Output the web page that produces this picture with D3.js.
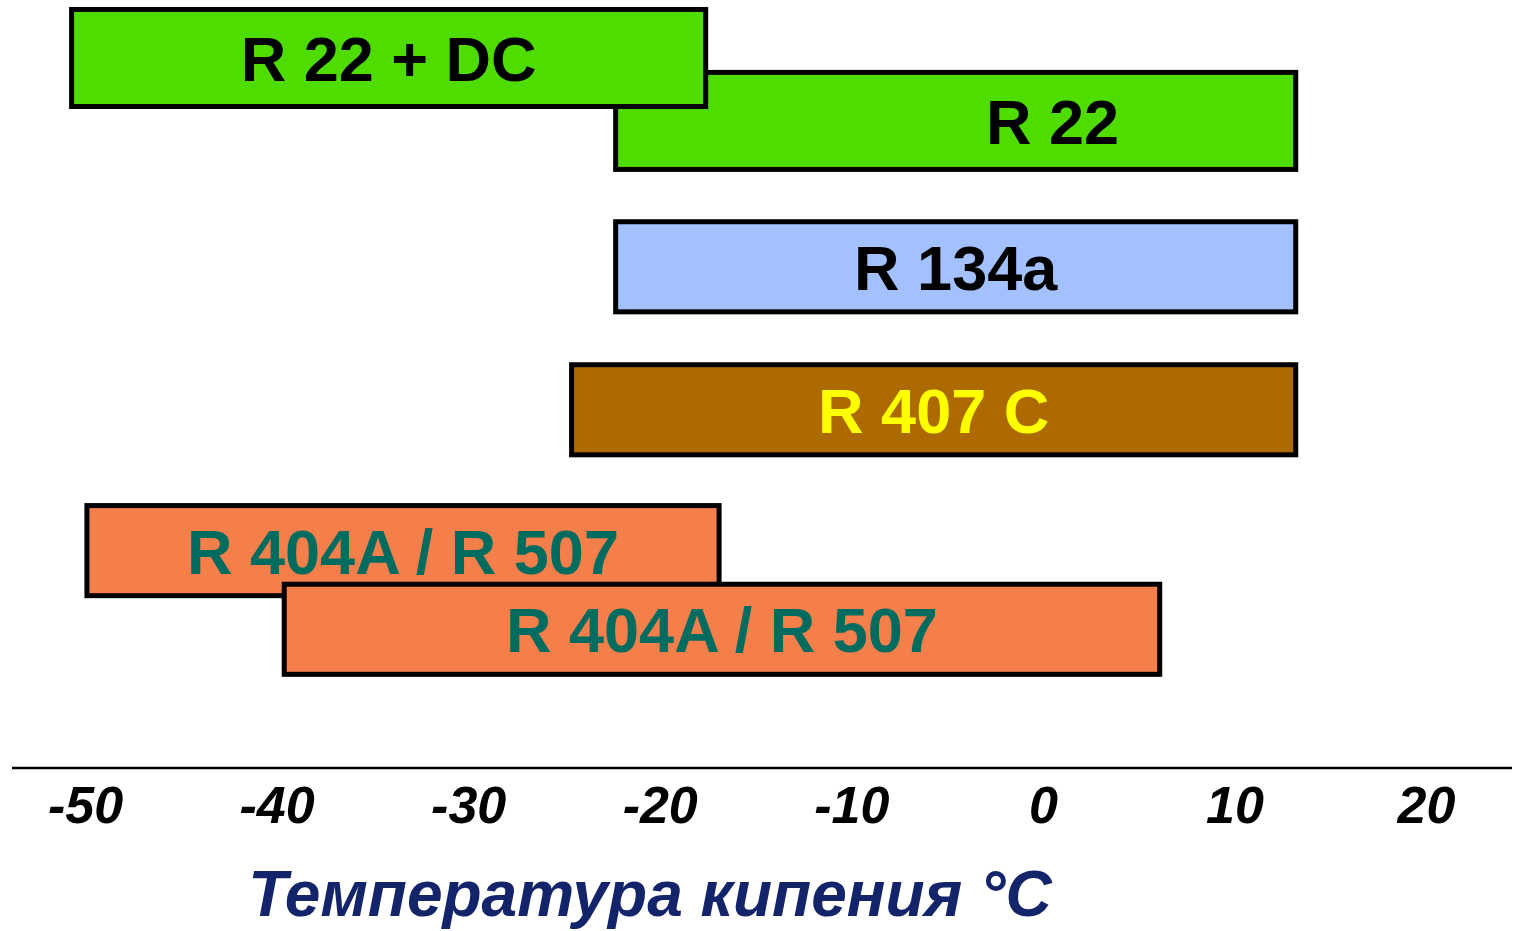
<!DOCTYPE html>
<html><head><meta charset="utf-8">
<script src="https://cdn.jsdelivr.net/npm/d3@7"></script>
<style>
html,body{margin:0;padding:0;background:#fff;}
svg{display:block;}
</style></head>
<body>
<script>
// ---- data ----
const labels   = ["R 22", "R 22 + DC", "R 134a", "R 407 C", "R 404A / R 507", "R 404A / R 507"];
const startT   = [-22.3, -50.7, -22.3, -24.6, -49.9, -39.6];
const endT     = [13.2, -17.6, 13.2, 13.2, -16.9, 6.1];
const rowPos   = [0.88, 0, 2.92, 4.92, 6.89, 7.99];
const labelAt  = [0.5, null, null, null, null, null];
const fills    = ["#4fdd00", "#4fdd00", "#a3c1ff", "#ad6a00", "#f47f4a", "#f47f4a"];
const textCols = ["#000000", "#000000", "#000000", "#ffff00", "#006b5f", "#006b5f"];
const ticks    = [-50, -40, -30, -20, -10, 0, 10, 20];
const axisTitle = "Температура кипения °С";

const W = 1514, H = 931;
const svg = d3.select("body").append("svg").attr("width", W).attr("height", H);

const x = d3.scaleLinear().domain([-50, 20]).range([85, 1426]);
const y = d3.scaleLinear().domain([0, 1]).range([58, 129.5]);
// upper (R 22) rows are drawn a little thicker than the lower ones
const thickOf = r => r < 2 ? 1.357 : 1.26;

const bars = labels.map((l, i) => ({label: l, s: startT[i], e: endT[i], r: rowPos[i], la: labelAt[i], fill: fills[i], tc: textCols[i]}));

const g = svg.append("g");
const bg = g.selectAll("g.bar").data(bars).join("g").attr("class", "bar");
bg.append("rect")
  .attr("x", d => x(d.s))
  .attr("width", d => x(d.e) - x(d.s))
  .attr("y", d => y(d.r - thickOf(d.r) / 2))
  .attr("height", d => y(d.r + thickOf(d.r) / 2) - y(d.r - thickOf(d.r) / 2))
  .attr("fill", d => d.fill)
  .attr("stroke", "#000")
  .attr("stroke-width", 5);
bg.append("text")
  .attr("x", d => d.la == null ? (x(d.s) + x(d.e)) / 2 : x(d.la))
  .attr("y", d => y(d.r) + 23)
  .attr("text-anchor", "middle")
  .attr("font-family", "'Liberation Sans', Arial, sans-serif")
  .attr("font-weight", "bold")
  .attr("font-size", 63)
  .attr("fill", d => d.tc)
  .text(d => d.label);

// axis
svg.append("line").attr("x1", 12).attr("x2", 1512).attr("y1", 768).attr("y2", 768)
  .attr("stroke", "#000").attr("stroke-width", 2.5);
const ax = svg.append("g").attr("transform", "translate(0,768)")
  .call(d3.axisBottom(x).tickValues(ticks).tickSize(0).tickPadding(0).tickFormat(d3.format("d")));
ax.select(".domain").remove();
ax.selectAll("text")
  .attr("y", 55)
  .attr("dy", null)
  .attr("font-family", "'Liberation Sans', Arial, sans-serif")
  .attr("font-weight", "bold")
  .attr("font-style", "italic")
  .attr("font-size", 52)
  .attr("fill", "#000")
  .text(d => d < 0 ? "-" + Math.abs(d) : String(d));

svg.append("text")
  .attr("x", 650).attr("y", 916)
  .attr("text-anchor", "middle")
  .attr("font-family", "'Liberation Sans', Arial, sans-serif")
  .attr("font-weight", "bold")
  .attr("font-style", "italic")
  .attr("font-size", 64)
  .attr("fill", "#13246a")
  .text(axisTitle);
</script>
</body></html>
